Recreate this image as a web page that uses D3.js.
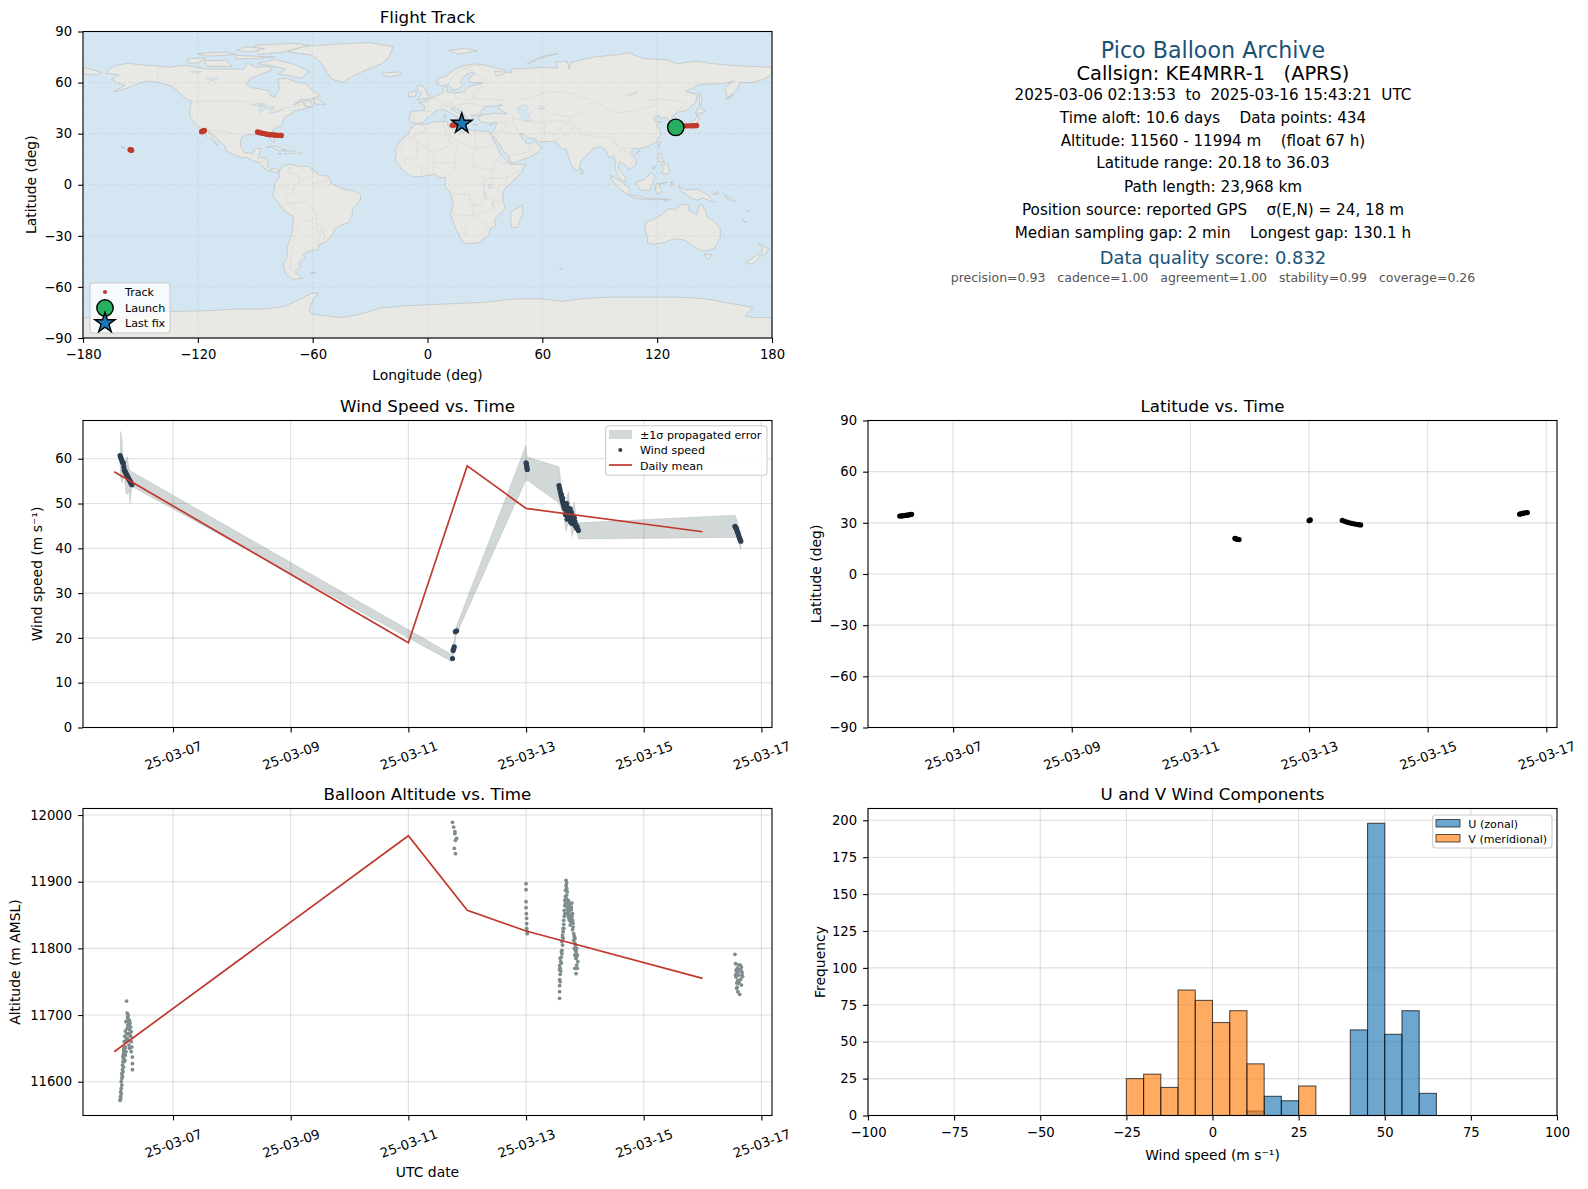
<!DOCTYPE html>
<html>

<head>
    <meta charset="utf-8">
    <style>
        body {
            margin: 0;
            background: white;
        }

        svg {
            display: block;
            font-family: 'DejaVu Sans', sans-serif;
        }
    </style>
</head>

<body>
    <svg width="1588" height="1189"></svg>
</body>

<script src="https://d3js.org/d3.v7.min.js"></script>

<script>
    // ---- land outlines, read by eye, as [lon, lat]
    let landNorthAmerica = [[-168, 65.5], [-166, 68.3], [-162, 70.3], [-156.5, 71.3], [-150, 70.5], [-141, 69.7], [-135, 69], [-128, 70], [-124, 69.8], [-115, 68], [-108, 68], [-102, 68], [-96, 68], [-94, 71.5], [-90, 69], [-85, 69.5], [-81, 69], [-82, 67], [-87, 65], [-93, 62], [-94.5, 59], [-92.5, 57], [-88, 56.5], [-82.5, 55], [-82, 52.5], [-79.5, 51.3], [-79, 54], [-77, 56], [-78, 59], [-78, 62.3], [-73, 62.3], [-70, 61], [-65.5, 59.5], [-64, 60.3], [-61, 56], [-56, 52.5], [-60, 50.2], [-66, 50], [-70, 47], [-65, 49], [-64.5, 46.5], [-61, 45.5], [-66, 44], [-70, 43.5], [-71, 41.5], [-74, 40.5], [-75.5, 37.5], [-76, 35], [-78, 34], [-81, 32], [-80.5, 28], [-80, 25.5], [-81.5, 25.5], [-82.8, 28], [-84, 30], [-89, 30.3], [-90, 29.2], [-94, 29.5], [-97, 28], [-97.7, 25], [-97.7, 22], [-95.5, 18.8], [-91, 18.5], [-90.5, 21], [-87, 21.5], [-88, 17.5], [-88.5, 15.8], [-84, 15.8], [-83.3, 14], [-83.7, 11], [-82, 9], [-79.5, 9.5], [-77.3, 8.7], [-78, 7.3], [-80, 7.5], [-81.5, 8], [-83.5, 8.5], [-85.8, 10], [-87.5, 13], [-91.5, 14], [-94.5, 16.2], [-97, 15.8], [-102, 18], [-105.5, 20], [-105.5, 22.5], [-109, 26], [-112, 29.5], [-114.7, 31.7], [-112, 26.5], [-109.5, 23], [-112, 25], [-115, 28], [-117.2, 32.5], [-120.5, 34.5], [-122.5, 37.7], [-124.3, 40.3], [-124, 46], [-123, 49], [-127, 51], [-130, 54.5], [-134, 58], [-140, 60], [-146, 61], [-151, 59.5], [-154, 58], [-160, 55.5], [-164, 54.7], [-158, 58.5], [-162, 59.5], [-165, 62], [-161, 64.5]]
    let landSouthAmerica = [[-77.5, 8.5], [-75, 11], [-72, 12.2], [-68, 11], [-62, 10.7], [-57, 6], [-52, 5], [-50, 0.5], [-44, -2.5], [-38, -3.5], [-35, -6], [-35, -9], [-39, -14], [-39.5, -18.5], [-41, -22], [-45, -23.8], [-48.5, -26], [-50, -30], [-53.5, -34], [-57, -35], [-57, -38], [-62, -39], [-65, -41], [-64, -43], [-67.5, -46], [-66, -48], [-69, -51], [-68, -53], [-65, -55], [-70, -55.5], [-74, -52.5], [-75.5, -47], [-73, -42], [-73.5, -37], [-71, -30], [-70, -19], [-76, -14], [-81, -6], [-80, -2.5], [-80, 1], [-77.5, 4]]
    let landEurasia = [[-9, 37], [-9.5, 39], [-8.8, 43.2], [-2, 43.5], [-1.2, 46], [-4.5, 48.4], [-1.5, 48.7], [1.5, 50.5], [4, 52], [8, 54], [8.5, 57], [10.5, 57.5], [10, 54.5], [14, 54], [19, 54.5], [21, 57], [24, 58.5], [29, 59.8], [23, 60], [21.5, 61], [22, 63], [25, 65.5], [22, 65.8], [18, 62.5], [17.5, 60], [18.5, 59], [16, 56.2], [13, 55.5], [11, 59], [8, 58], [5, 59], [5, 62], [10, 64], [14, 67.5], [19, 70], [25, 71], [31, 70], [41, 67], [40, 65], [36, 64], [35, 66.5], [44, 66], [44, 68], [54, 68.5], [60, 69], [68, 68.5], [67, 72], [73, 72.5], [74, 68], [75, 72], [81, 73.5], [87, 75], [100, 76.5], [105, 77.5], [113, 74], [125, 73.5], [130, 71], [140, 72.5], [150, 71], [160, 70], [170, 69.5], [180, 69], [180, 65], [177, 62.5], [170, 60], [163, 60], [162, 56], [156.5, 51], [155.5, 57], [160, 61], [155, 59.3], [142, 59], [135, 54.7], [141, 53], [140, 48], [135, 43.5], [130.5, 42.5], [127.5, 39.8], [129.5, 37], [129, 35.2], [126.3, 34.5], [126.5, 37.5], [125, 39.5], [121.5, 39], [121, 40.8], [118, 39], [119, 37.2], [122.5, 37], [119.5, 35], [121.8, 31.5], [121.8, 29], [119.5, 25.5], [116, 22.8], [110.5, 21], [108, 21.5], [106, 19], [109, 15], [109, 11.5], [105, 8.7], [105, 10], [102, 12.5], [100.5, 13.5], [99.5, 10], [103.5, 4], [103.5, 1.5], [100.5, 3.5], [98.5, 8], [98, 14], [97, 16.5], [94.5, 16], [93.5, 19.5], [91, 22.5], [87, 21.5], [82.5, 16.5], [80, 13.5], [79.5, 10], [77.5, 8], [75, 12], [73, 18], [72.5, 21], [70, 21], [68.5, 23.5], [66.5, 25.3], [57.5, 25.5], [56.5, 27], [52, 27.5], [50, 30], [48, 30], [50, 26.5], [51.5, 25.2], [51.5, 24], [54, 24], [56.3, 26], [56.7, 24.3], [59.8, 22.5], [57.7, 19], [55, 17], [52, 15.7], [45, 12.8], [43.3, 13], [42.5, 16.5], [39, 21], [35, 28], [34.3, 28], [32.7, 29.8], [34.5, 31.3], [36, 35.5], [36, 36.8], [32, 36.2], [30, 36.5], [27.5, 37], [26.3, 39.5], [29, 41], [35, 42], [41.5, 41.5], [37, 45], [39, 47], [33.5, 46], [30.5, 46], [28, 43], [28, 41.3], [26, 40.7], [23, 40.5], [24, 38], [22.5, 36.6], [19.5, 40.5], [19, 42], [13.5, 45.5], [12.3, 44.5], [16, 41.8], [18.4, 40], [16.5, 39.5], [16, 38], [15.5, 40], [12, 42], [8.8, 44.3], [4, 43.3], [3, 41.5], [0, 39.5], [-2, 36.8], [-5.5, 36]]
    let landAfrica = [[-5.8, 35.8], [-2, 35], [3, 36.8], [10, 37.3], [11, 34], [15, 32.3], [19, 30.5], [20, 32.7], [25, 31.7], [32, 31.2], [33, 29.8], [34, 27], [37, 21], [38, 18], [43, 12], [51.2, 12], [49, 7], [44, 1.5], [40, -3], [39.2, -8], [40.7, -14], [35, -20], [35.5, -24], [32.7, -26], [32, -29.5], [27, -34], [20, -34.8], [18, -33], [15, -26.5], [12, -17.5], [13.5, -11], [12, -5], [9, -0.8], [9.5, 4], [6, 4.3], [4, 6.3], [-2, 5], [-7.5, 4.5], [-11, 6.7], [-13.5, 9.5], [-17, 14.7], [-16.2, 19], [-17, 21], [-13, 27.5], [-9.8, 30], [-9, 33]]
    let landAustralia = [[114, -22], [113.5, -26], [115, -31], [115, -34.3], [118, -35], [123.5, -34], [129, -31.6], [134, -32.5], [137.7, -35], [139.7, -36.8], [143.5, -38.8], [147, -38.5], [150, -37.3], [153, -31], [153, -25.5], [149, -21], [146, -19], [145.3, -15], [142.7, -11], [141.5, -13], [140.8, -17.5], [136, -15], [136.8, -12.2], [132.5, -11.5], [129.5, -14.8], [126, -14], [122, -18], [118, -20.3]]
    let landAntarctica = [[-180, -90], [-180, -78], [-160, -78], [-150, -76.5], [-135, -74.5], [-115, -74], [-100, -73], [-85, -73], [-75, -71.5], [-68, -68], [-60, -63.5], [-57, -63.5], [-60, -68], [-62, -74], [-60, -76], [-45, -78], [-35, -76], [-25, -72.5], [-10, -71], [10, -70], [30, -69], [45, -67], [60, -67], [70, -68.5], [80, -67], [95, -66], [110, -66], [130, -66], [145, -67], [160, -70], [170, -72], [166, -77], [170, -78], [180, -78], [180, -90]]
    let landGreenland = [[-73, 78], [-66, 81], [-50, 82.5], [-30, 83.5], [-18, 81], [-20, 75], [-24, 71], [-35, 66], [-42, 62], [-44, 60], [-50, 62], [-53, 67], [-55, 71], [-60, 76]]
    let landIslands = [
        [[-180, 65], [-180, 69], [-175, 67.5], [-170, 66], [-173, 64.5]],
        [[-80, 73.5], [-72, 71.5], [-68, 70], [-62, 66.5], [-66, 62.5], [-72, 64], [-78, 65], [-74, 68], [-82, 70], [-89, 71]],
        [[-117, 73], [-105, 73], [-102, 69.5], [-115, 69.5]],
        [[-125, 74], [-116, 74.5], [-120, 71.5], [-125, 71.5]],
        [[-90, 82], [-70, 83], [-62, 82], [-75, 78], [-88, 76.5]],
        [[-100, 76], [-80, 75], [-92, 74], [-100, 74]],
        [[-120, 77], [-105, 78], [-100, 76.5], [-115, 75.5]],
        [[-95, 81], [-85, 80], [-92, 78], [-100, 79]],
        [[-59, 51.5], [-53, 47], [-59, 47.5]],
        [[-64, 49.5], [-61, 49], [-60, 46], [-64, 46]],
        [[-24, 65.5], [-15, 66.3], [-13.5, 65], [-19, 63.3], [-23, 64]],
        [[-5.5, 58.5], [-2, 57.5], [0, 53], [1.5, 52], [1, 51], [-5.5, 50], [-3, 53.5], [-5, 55]],
        [[-10, 54], [-6, 55.2], [-6, 52.2], [-10, 51.5]],
        [[-84.5, 22], [-80, 23], [-74.2, 20.2], [-77.5, 19.9], [-82, 22.4]],
        [[-74.3, 19.8], [-69, 19.8], [-68.4, 18.6], [-74.3, 18.2]],
        [[-78.3, 18.4], [-76.3, 18.2], [-77, 17.8]],
        [[-67.2, 18.5], [-65.7, 18.4], [-66, 18]],
        [[-156, 20.2], [-155, 19.8], [-155.6, 19]],
        [[-160, 22.2], [-158, 21.6], [-159.5, 21.8]],
        [[-61, -51.5], [-58, -51.4], [-59, -52.3]],
        [[11, 79], [20, 80.2], [26, 78.5], [16, 76.8]],
        [[52, 71], [57, 74], [68, 77], [60, 75.5], [56, 72.5]],
        [[12.5, 38], [15.5, 38.2], [15, 36.7]],
        [[8.3, 41], [9.7, 41], [9.5, 39], [8.5, 39]],
        [[24, 35.5], [26, 35.3], [24.5, 34.9]],
        [[32.5, 35.1], [34.3, 35.6], [33, 34.6]],
        [[43.5, -16], [49.5, -12], [50, -16], [47, -25], [44, -25], [43.5, -21]],
        [[80, 9.7], [81.8, 7.5], [80.5, 6]],
        [[120, 25], [122, 25], [120.8, 22]],
        [[110, 20], [111, 19.7], [109, 18.3]],
        [[130, 33.8], [132, 33], [131, 31]],
        [[131, 34.2], [136, 35.7], [140, 38.5], [141, 41.3], [142, 39], [140.8, 35.7], [137, 34.6], [135.5, 33.5], [132.5, 34]],
        [[132.5, 34], [134.5, 34], [133, 32.8]],
        [[140, 42], [141.5, 45.5], [145.5, 43.5], [143, 42]],
        [[142, 54], [143, 53.5], [143.5, 49], [142.5, 46], [142, 50]],
        [[156, 50.5], [160, 53], [158, 51]],
        [[120.5, 18.5], [122.3, 18.3], [122, 16], [124, 13], [120.6, 13.8]],
        [[122, 11.5], [125.5, 12.5], [126.5, 7.5], [125.5, 6], [122, 7], [123.5, 9.5]],
        [[117.2, 10], [119.5, 11.3], [118, 9]],
        [[95.3, 5.6], [98, 4], [103.5, 0], [106, -3], [104.5, -5.8], [101, -3], [97, 2]],
        [[105.2, -6], [110, -6.5], [114.5, -7.7], [114.5, -8.7], [108, -7.8]],
        [[115, -8.2], [119, -8.3], [125, -8.4], [119, -9]],
        [[124, -9], [127, -8.4], [124, -10]],
        [[109, 1.5], [113, 3], [117, 7], [119, 5], [117.7, 1], [116, -3.5], [111, -3], [110, -1]],
        [[119.5, 0.5], [125, 1.5], [121, 0], [122.5, -4.5], [120.5, -5.5], [119, -3]],
        [[127.5, 2], [128.5, 0], [127.5, -1]],
        [[131, -0.8], [135, -3.2], [141, -2.6], [146, -5.5], [150.5, -10.5], [144, -7.8], [141, -9], [138, -8], [133, -4]],
        [[149, -5.5], [152, -4], [152, -5.8]],
        [[155, -6], [159, -8], [161, -10], [157, -8.5]],
        [[166.5, -15], [168, -16], [167, -15]],
        [[164, -20], [167, -22.2], [166, -22]],
        [[144.7, -40.8], [148.3, -40.8], [147.5, -43.3], [146, -43.5]],
        [[172.7, -34.5], [178.5, -37.7], [176, -41.5], [174.8, -40.5], [174.7, -37.5]],
        [[172.5, -40.6], [174.3, -41.7], [171, -45.5], [168.5, -46.7], [166.5, -45.8]],
        [[69, -49], [70.5, -49.2], [69.5, -49.7]]
    ]
    let lakes = [
        [[47, 45.5], [51, 47], [53, 45], [51, 43.5], [53, 41], [54, 37.5], [50, 37.3], [49, 40], [47.5, 43]],
        [[58.5, 46.5], [61.5, 46], [60, 44], [58.5, 44.5]],
        [[-92, 47], [-85, 47.8], [-84.5, 46.5], [-90, 46.5]],
        [[-88, 46], [-84.5, 46], [-80, 45.5], [-82, 43], [-84, 45], [-87, 43], [-87.5, 42]],
        [[-83, 42], [-79, 43], [-76, 44], [-79, 42.5]],
        [[-124, 66.5], [-118, 66.5], [-120, 65]],
        [[-116, 62.5], [-109, 62.8], [-113, 61]],
        [[104, 52], [108, 54], [109.5, 55.5], [109, 54]],
        [[31.5, 0], [34, 0], [33, -2.5], [31.8, -2]],
        [[29.3, -3.5], [30, -4], [31, -8], [30.2, -7.5]],
        [[34, -10], [35, -13], [34.5, -14], [34, -12]]
    ]
    // country borders, only the larger ones, faint in the picture
    let borders = [
        [[-141, 69.7], [-141, 60]], [[-123, 49], [-95, 49], [-89, 48], [-83, 46], [-79, 43], [-75, 45], [-70, 46], [-67, 47.2], [-67, 45]],
        [[-117, 32.5], [-108, 31.5], [-106, 31.7], [-101, 29.5], [-97.5, 26]],
        [[-92, 14.5], [-91, 17.5], [-89, 18]], [[-89, 14], [-88.3, 15.8]], [[-87.5, 13], [-84.7, 15]], [[-85.8, 11], [-83.7, 11]],
        [[-72, 12], [-72.5, 7], [-67.5, 6], [-67, 1.5], [-70, -1], [-70, -4.2], [-74, -7.5], [-73, -11], [-69.5, -11]],
        [[-60, 8.5], [-60, 5], [-64, 4], [-67, 1.5]], [[-57, 6], [-57.5, 2]], [[-52, 5], [-54, 2.3]], [[-60, 1], [-52, 2]],
        [[-80, -2.5], [-75, -1], [-72, -2.5]], [[-70, -19], [-69.5, -11], [-65, -10], [-60, -13.5], [-58, -18], [-58, -22], [-54.5, -25.5], [-53.5, -33.5]],
        [[-70, -19], [-67, -23], [-68, -27], [-70, -33], [-71, -40], [-72, -50], [-68.5, -52.5]], [[-65, -22], [-58, -20], [-58, -27], [-54.5, -27], [-58, -34]],
        [[-2, 35], [-1, 32], [-8.5, 27.7], [-13, 27.5]], [[-8.5, 27.7], [-5, 25], [3, 19], [4, 19], [12, 23.5], [9.5, 30], [8.5, 33], [8.5, 37]],
        [[11, 33], [9.5, 30], [25, 20], [25, 31.7]], [[25, 22], [37, 22]], [[24, 19.5], [24, 10], [34, 9.5], [36, 14], [38, 18]], [[16, 23], [14, 13], [15, 8], [9, 4.5]],
        [[-17, 21], [-13, 21.3], [-12, 26]], [[-5, 25], [-5.5, 15.5], [-12, 15], [-12, 12.5]], [[3, 19], [3.5, 11.5], [3, 6.5]], [[-2.8, 5], [-3, 10], [-5.5, 11]], [[14, 13], [4, 13]],
        [[34, 9.5], [33, 4], [30, 3.5], [28, 5], [24, 9]], [[42, 12], [36, 14]], [[33, 4], [41, 4], [48, 8]], [[41, 4], [41, -1.5]], [[34, 4], [34, -1], [39, -4.5]],
        [[12, -5], [22, -6], [22, -11], [27, -12], [30, -8], [29, -3], [30, 3]], [[30, -8], [40, -10.5]], [[12, -17.5], [24, -18], [24, -11]], [[20, -22], [20, -29], [16.5, -28.5]], [[24, -18], [30, -22.5], [32, -26]], [[33, -14], [30, -15.5], [25, -18]],
        [[35, 30], [39, 32], [47, 29], [48, 30]], [[39, 32], [42, 37], [36, 36.8]], [[45, 39], [44, 37], [46, 34], [48, 30]], [[52, 19], [55, 22], [55.5, 24]], [[43, 17], [52, 19]],
        [[44, 39.5], [48, 38.5], [54, 37.5], [61, 36.5], [61, 31.5], [62, 26]], [[61, 31.5], [66, 29.5], [70, 33], [74, 37]], [[66, 25.5], [70, 28], [74, 31], [77, 35]], [[61, 36.5], [66, 37.5], [74, 37]],
        [[53, 41], [56, 45], [61, 44], [67, 41], [74, 40]], [[47, 50], [55, 51], [61, 54], [70, 55], [77, 53], [87, 49]], [[87, 49], [98, 42], [111, 44], [120, 47], [116, 50], [127, 50], [135, 48], [131, 43]],
        [[87, 49], [80, 42], [74, 39], [77, 35], [81, 30], [88, 28], [97, 28], [98, 24], [102, 21.5], [108, 21.5]], [[98, 24], [101, 20], [97.5, 17], [99, 12]], [[102, 21.5], [105, 17], [107.5, 15], [106, 11]],
        [[-1.8, 43.4], [3, 42.5]], [[-7, 37], [-7, 42], [-8.5, 42]], [[2.5, 51], [8, 49], [7.5, 47.5], [13, 47.5], [13, 48.5], [15, 51], [14, 54]], [[7.5, 44], [7, 46], [13.5, 46.5]], [[15, 51], [19, 49.5], [24, 50.5], [23.5, 54]],
        [[24, 50.5], [40, 50], [38, 47]], [[23.5, 54], [28, 56], [28, 59.5]], [[22, 48], [30, 46]], [[13.5, 46.5], [22, 48]], [[16, 46], [19, 42]], [[22, 41], [26, 41.5], [29, 42]], [[20, 69], [24, 66], [30, 62], [28.5, 60]], [[12, 61], [15, 66], [20, 69], [28, 70]]
    ]

    // ---- track
    let trackLon = [129.7, 131, 132.5, 134, 135.5, 137, 138, 139, 140, 140.6, -155.4, -155.1, -154.8, -154.6, -118, -117.6, -117.2, -116.9, -116.6, -88.8, -88, -87, -86, -85, -84, -83, -82, -81, -80, -79, -78, -77, -76.4, 13, 13.8, 14.5, 15.5, 16.5, 17.9]
    let trackLat = [34.4, 34.5, 34.5, 34.5, 34.6, 34.6, 34.6, 34.7, 34.7, 34.8, 20.6, 20.5, 20.4, 20.3, 31.1, 31.3, 31.5, 31.7, 31.9, 31, 30.7, 30.4, 30.2, 30, 29.7, 29.5, 29.4, 29.3, 29.2, 29.1, 29, 29, 28.9, 34.9, 35.1, 35.3, 35.5, 35.7, 36]
    let launchLonLat = [129.7, 33.7]
    let lastFixLonLat = [17.9, 35.9]

    // ---- wind speed (day of March 2025, m/s)
    let windT = [6.10, 6.11, 6.12, 6.13, 6.14, 6.155, 6.165, 6.17, 6.18, 6.19, 6.20, 6.21, 6.22, 6.23, 6.24, 6.25, 6.26, 6.27, 6.28, 6.29, 6.30, 11.75, 11.76, 11.77, 11.78, 11.80, 11.82, 13.00, 13.005, 13.01, 13.015, 13.02, 13.56, 13.57, 13.58, 13.59, 13.60, 13.61, 13.62, 13.63, 13.64, 13.65, 13.66, 13.67, 13.68, 13.69, 13.70, 13.71, 13.72, 13.73, 13.74, 13.75, 13.76, 13.77, 13.78, 13.79, 13.80, 13.81, 13.82, 13.83, 13.85, 13.87, 13.89, 16.55, 16.56, 16.57, 16.58, 16.59, 16.60, 16.61, 16.62, 16.63, 16.64, 16.65, 13.66, 13.67, 13.68, 13.69, 13.70, 13.71, 13.72, 13.73, 13.74, 13.75, 13.76, 13.77, 13.78, 13.80, 13.82, 13.84, 13.86, 13.60, 13.62]
    let windV = [60.7, 60.3, 60.0, 59.6, 59.2, 59.0, 58.2, 57.5, 57.3, 57.0, 56.7, 56.5, 56.2, 56.0, 55.7, 55.4, 55.2, 55.0, 54.7, 54.5, 54.2, 15.4, 17.2, 17.6, 18.0, 21.4, 21.6, 59.1, 58.8, 58.4, 58.0, 57.6, 54.0, 53.4, 52.8, 52.2, 51.6, 51.0, 50.5, 50.0, 49.5, 49.0, 48.8, 47.6, 49.0, 48.3, 47.3, 48.8, 47.8, 46.9, 48.6, 47.4, 46.4, 47.8, 46.7, 46.2, 47.0, 46.2, 45.8, 45.9, 45.2, 44.8, 44.0, 44.9, 44.7, 44.5, 44.2, 43.7, 43.4, 43.0, 42.6, 42.2, 41.9, 41.6, 50.0, 49.5, 47.5, 50.0, 46.5, 47.0, 49.0, 48.6, 46.8, 48.8, 45.8, 48.0, 45.6, 45.5, 46.8, 45.0, 44.5, 52.0, 51.2]
    let bandT = [6.10, 6.11, 6.135, 6.15, 6.17, 6.20, 6.225, 6.25, 6.27, 6.30, 11.74, 11.76, 11.78, 11.81, 12.995, 13.02, 13.56, 13.60, 13.65, 13.68, 13.72, 13.75, 13.78, 13.82, 13.85, 13.89, 16.55, 16.58, 16.62, 16.65]
    let bandLow = [58, 55.6, 54.6, 56, 56.5, 52.4, 52, 53, 50, 53.8, 14.7, 15.8, 16.8, 20.6, 55.2, 55.2, 50.1, 48.7, 46.5, 43.7, 46, 46, 42.6, 44.5, 44, 42.1, 42.4, 42.4, 41, 39.6]
    let bandHigh = [60.5, 66.1, 64, 60, 58.6, 60, 60.5, 58, 57.3, 57.1, 16.3, 18.8, 19.5, 22.4, 62.9, 60.4, 58.2, 54, 49.8, 50.5, 52.6, 49, 48.5, 50.3, 47, 45.7, 47.4, 46.5, 44.5, 43.7]
    let windMeanT = [6, 11, 12, 13, 16]
    let windMeanV = [57.1, 18.9, 58.4, 48.9, 43.7]

    // ---- latitude
    let latT = [6.10, 6.12, 6.14, 6.16, 6.18, 6.20, 6.22, 6.24, 6.26, 6.28, 6.30, 11.75, 11.76, 11.78, 11.80, 11.82, 13.00, 13.01, 13.02, 13.56, 13.60, 13.64, 13.68, 13.72, 13.76, 13.80, 13.84, 13.87, 16.55, 16.57, 16.60, 16.62, 16.65, 16.68]
    let latV = [34.0, 34.0, 34.1, 34.2, 34.3, 34.4, 34.5, 34.6, 34.7, 34.9, 35.0, 20.9, 20.7, 20.5, 20.3, 20.2, 31.3, 31.5, 31.7, 31.4, 30.9, 30.4, 30.0, 29.7, 29.4, 29.1, 28.9, 28.8, 35.1, 35.3, 35.5, 35.7, 35.9, 36.0]

    // ---- altitude
    let altT = [6.10, 6.11, 6.11, 6.12, 6.12, 6.13, 6.13, 6.14, 6.14, 6.15, 6.15, 6.16, 6.16, 6.17, 6.17, 6.18, 6.18, 6.19, 6.19, 6.20, 6.21, 6.22, 6.22, 6.23, 6.23, 6.24, 6.24, 6.25, 6.25, 6.26, 6.26, 6.27, 6.28, 6.29, 6.23, 6.30, 6.31, 6.31, 6.31, 6.29, 11.75, 11.77, 11.79, 11.80, 11.82, 11.78, 11.80, 11.79, 13.00, 13.00, 13.00, 13.00, 13.005, 13.01, 13.01, 13.01, 13.02, 13.02, 13.57, 13.57, 13.57, 13.58, 13.59, 13.57, 13.58, 13.59, 13.60, 13.61, 13.61, 13.62, 13.62, 13.63, 13.63, 13.64, 13.64, 13.65, 13.65, 13.66, 13.66, 13.67, 13.67, 13.68, 13.68, 13.69, 13.69, 13.70, 13.70, 13.71, 13.72, 13.72, 13.73, 13.74, 13.74, 13.75, 13.75, 13.76, 13.77, 13.77, 13.78, 13.79, 13.79, 13.80, 13.81, 13.81, 13.82, 13.82, 13.83, 13.83, 13.84, 13.85, 13.85, 13.86, 13.87, 13.87, 16.55, 16.56, 16.57, 16.57, 16.58, 16.58, 16.59, 16.59, 16.60, 16.60, 16.61, 16.61, 16.62, 16.63, 16.64, 16.65, 16.66, 16.67, 16.68,
        6.11, 6.12, 6.13, 6.14, 6.15, 6.16, 6.16, 6.17, 6.17, 6.18, 6.18, 6.19, 6.19, 6.20, 6.20, 6.21, 6.22, 6.23, 6.24, 6.25, 6.26, 6.27, 6.28, 6.29,
        13.72, 13.73, 13.74, 13.75, 13.76, 13.77, 13.78, 13.79, 13.80, 13.78, 13.83, 13.84, 13.85, 13.86, 13.87, 13.88, 13.83, 13.85, 13.84,
        13.57, 13.58, 13.57, 13.60, 13.58, 13.60, 13.61, 13.62, 13.63, 13.64, 13.66, 13.67, 13.68, 13.69, 13.70, 13.69,
        16.56, 16.58, 16.60, 16.62, 16.64, 16.66, 16.67, 16.65]
    let altV = [11572, 11578, 11585, 11590, 11600, 11605, 11612, 11618, 11625, 11630, 11638, 11642, 11648, 11652, 11660, 11640, 11668, 11676, 11660, 11690, 11721, 11703, 11680, 11697, 11672, 11690, 11662, 11685, 11655, 11678, 11650, 11670, 11682, 11660, 11695, 11652, 11637, 11627, 11618, 11645, 11989, 11982, 11972, 11962, 11965, 11950, 11942, 11975, 11897, 11888, 11870, 11861, 11852, 11845, 11837, 11830, 11825, 11822, 11725, 11744, 11753, 11761, 11766, 11774, 11770, 11780, 11787, 11797, 11792, 11805, 11817, 11825, 11830, 11836, 11842, 11848, 11857, 11864, 11872, 11878, 11887, 11894, 11902, 11868, 11880, 11862, 11852, 11858, 11872, 11848, 11865, 11856, 11842, 11862, 11835, 11850, 11845, 11862, 11838, 11828, 11852, 11832, 11822, 11812, 11818, 11800, 11790, 11808, 11797, 11785, 11795, 11775, 11770, 11790, 11791, 11777, 11767, 11757, 11748, 11762, 11742, 11770, 11752, 11735, 11775, 11760, 11748, 11731, 11768, 11754, 11772, 11764, 11758,
        11575, 11582, 11595, 11608, 11615, 11622, 11635, 11630, 11645, 11650, 11632, 11640, 11652, 11662, 11645, 11672, 11665, 11685, 11700, 11672, 11692, 11688, 11668, 11675,
        11855, 11845, 11868, 11850, 11840, 11858, 11848, 11842, 11838, 11868, 11815, 11805, 11785, 11800, 11790, 11780, 11770, 11762, 11790,
        11735, 11750, 11768, 11778, 11785, 11795, 11810, 11820, 11815, 11830, 11852, 11868, 11875, 11890, 11885, 11898,
        11760, 11740, 11765, 11750, 11775, 11745, 11760, 11768]
    let altMeanT = [6, 11, 12, 13, 16]
    let altMeanV = [11645, 11969, 11857, 11826, 11755]

    // ---- histogram counts per 5 m/s bin, first number is the left edge
    let uEdges = [10, 15, 20, 40, 45, 50, 55, 60]
    let uCounts = [3, 13, 10, 58, 198, 55, 71, 15]
    let vEdges = [-25, -20, -15, -10, -5, 0, 5, 10, 25]
    let vCounts = [25, 28, 19, 85, 78, 63, 71, 35, 20]

    // ---- text panel
    let infoLines = [
        "2025-03-06 02:13:53  to  2025-03-16 15:43:21  UTC",
        "Time aloft: 10.6 days    Data points: 434",
        "Altitude: 11560 - 11994 m    (float 67 h)",
        "Latitude range: 20.18 to 36.03",
        "Path length: 23,968 km",
        "Position source: reported GPS    σ(E,N) = 24, 18 m",
        "Median sampling gap: 2 min    Longest gap: 130.1 h"
    ]
    let dateTicks = [7, 9, 11, 13, 15, 17]

    let RED = "#c0392b"
    let NAVY = "#1a5276"
    let LABEL = 13.9
    let TICK = 13.2
    let svg = d3.select("svg")

    function toDate(day) {
        return new Date(Date.UTC(2025, 2, 1) + (day - 1) * 864e5)
    }

    // one matplotlib style axes: grid, ticks, then the frame on top at the end
    function makeAxes(box, xScale, yScale, xTicks, yTicks, xFormat, yFormat, id, dashed) {
        let g = svg.append("g")
        svg.append("clipPath").attr("id", id).append("rect")
            .attr("x", box.x0).attr("y", box.y0).attr("width", box.x1 - box.x0).attr("height", box.y1 - box.y0)

        let back = g.append("g")
        let grid = g.append("g")
        let plot = g.append("g").attr("clip-path", "url(#" + id + ")")

        grid.selectAll(".gx").data(xTicks).join("line").attr("class", "gx")
            .attr("x1", d => xScale(d)).attr("x2", d => xScale(d)).attr("y1", box.y0).attr("y2", box.y1)
        grid.selectAll(".gy").data(yTicks).join("line").attr("class", "gy")
            .attr("y1", d => yScale(d)).attr("y2", d => yScale(d)).attr("x1", box.x0).attr("x2", box.x1)
        grid.selectAll("line")
            .style("stroke", dashed ? "#808080" : "#b0b0b0")
            .style("stroke-opacity", dashed ? .22 : .4)
            .style("stroke-width", dashed ? .6 : 1.1)
            .style("stroke-dasharray", dashed ? "3,2" : null)

        let xAxis = g.append("g").attr("transform", "translate(0," + box.y1 + ")")
            .call(d3.axisBottom(xScale).tickValues(xTicks).tickFormat(xFormat).tickSize(4.9).tickPadding(7))
        let yAxis = g.append("g").attr("transform", "translate(" + box.x0 + ",0)")
            .call(d3.axisLeft(yScale).tickValues(yTicks).tickFormat(yFormat).tickSize(4.9).tickPadding(6))
        g.selectAll(".domain").remove()
        g.selectAll(".tick line").style("stroke", "#000").style("stroke-width", 1.1)
        g.selectAll(".tick text").style("font-size", TICK + "px").style("fill", "#000").style("font-family", "'DejaVu Sans'")

        g.append("rect").attr("class", "frame")
            .attr("x", box.x0).attr("y", box.y0).attr("width", box.x1 - box.x0).attr("height", box.y1 - box.y0)
            .style("fill", "none").style("stroke", "#000").style("stroke-width", 1.1)

        return { g: g, back: back, plot: plot, xAxis: xAxis, yAxis: yAxis }
    }

    function title(box, s) {
        svg.append("text").attr("x", (box.x0 + box.x1) / 2).attr("y", box.y0 - 8.8)
            .attr("text-anchor", "middle").style("font-size", "16.7px").text(s)
    }
    function xLabel(box, s, y) {
        svg.append("text").attr("x", (box.x0 + box.x1) / 2).attr("y", y)
            .attr("text-anchor", "middle").style("font-size", LABEL + "px").text(s)
    }
    function yLabel(box, s, x) {
        svg.append("text").attr("transform", "translate(" + x + "," + (box.y0 + box.y1) / 2 + ") rotate(-90)")
            .attr("text-anchor", "middle").style("font-size", LABEL + "px").text(s)
    }
    function rotateDates(ax) {
        ax.xAxis.selectAll(".tick text")
            .attr("text-anchor", "middle").attr("dy", "0.35em").attr("y", 0)
            .attr("transform", "translate(0,28) rotate(-20)")
    }
    function legendBox(x, y, w, h) {
        svg.append("rect").attr("x", x).attr("y", y).attr("width", w).attr("height", h).attr("rx", 3)
            .style("fill", "white").style("fill-opacity", .8).style("stroke", "#ccc").style("stroke-width", 1.1)
    }
    function legendText(x, y, s) {
        svg.append("text").attr("x", x).attr("y", y).attr("dy", "0.35em").style("font-size", "11.1px").text(s)
    }

    let dayFormat = d => d3.utcFormat("%y-%m-%d")(d)
    let xDomain = [toDate(5.47), toDate(17.18)]
    // the latitude panel has no daily mean line, so it starts a little later
    let latDomain = [toDate(5.565), toDate(17.18)]
    let dateValues = dateTicks.map(toDate)
    let numFormat = d3.format("d")

    // ---------- Flight track
    let mapBox = { x0: 83, x1: 772, y0: 31.5, y1: 338 }
    let lonScale = d3.scaleLinear().domain([-180, 180]).range([mapBox.x0, mapBox.x1])
    let latScale = d3.scaleLinear().domain([-90, 90]).range([mapBox.y1, mapBox.y0])
    let mapAx = makeAxes(mapBox, lonScale, latScale, [-180, -120, -60, 0, 60, 120, 180], [-90, -60, -30, 0, 30, 60, 90], d3.format("d"), d3.format("d"), "clip-map", true)

    let lonLatLine = d3.line().x(d => lonScale(d[0])).y(d => latScale(d[1])).curve(d3.curveLinearClosed)
    let openLine = d3.line().x(d => lonScale(d[0])).y(d => latScale(d[1]))

    mapAx.back.append("rect")
        .attr("x", mapBox.x0).attr("y", mapBox.y0).attr("width", mapBox.x1 - mapBox.x0).attr("height", mapBox.y1 - mapBox.y0)
        .style("fill", "#d4e6f1")

    let allLand = [landNorthAmerica, landSouthAmerica, landEurasia, landAfrica, landAustralia, landAntarctica, landGreenland].concat(landIslands)
    mapAx.back.selectAll(".land")
        .data(allLand)
        .join("path")
        .attr("class", "land")
        .attr("d", lonLatLine)
        .style("fill", "#e8e8e4")
        .style("stroke", "#bcc0c1")
        .style("stroke-width", .7)
    mapAx.back.selectAll(".lake")
        .data(lakes)
        .join("path")
        .attr("class", "lake")
        .attr("d", lonLatLine)
        .style("fill", "#d4e6f1")
        .style("stroke", "#c4cacc")
        .style("stroke-width", .5)
    mapAx.back.selectAll(".border")
        .data(borders)
        .join("path")
        .attr("class", "border")
        .attr("d", openLine)
        .style("fill", "none")
        .style("stroke", "#d8d9d6")
        .style("stroke-width", .7)

    mapAx.plot.selectAll(".track")
        .data(trackLon)
        .join("circle")
        .attr("class", "track")
        .attr("cx", d => lonScale(d))
        .attr("cy", (d, i) => latScale(trackLat[i]))
        .attr("r", 2.7)
        .style("fill", RED)

    let starPath = d3.symbol().type(d3.symbolStar).size(128)()
    svg.append("circle")
        .attr("cx", lonScale(launchLonLat[0])).attr("cy", latScale(launchLonLat[1])).attr("r", 8.2)
        .style("fill", "#27ae60").style("stroke", "#000").style("stroke-width", 1.4)
    svg.append("path").attr("d", starPath)
        .attr("transform", "translate(" + lonScale(lastFixLonLat[0]) + "," + latScale(lastFixLonLat[1]) + ")")
        .style("fill", "#1f77b4").style("stroke", "#000").style("stroke-width", 1.4)

    title(mapBox, "Flight Track")
    xLabel(mapBox, "Longitude (deg)", 379.5)
    yLabel(mapBox, "Latitude (deg)", 36)

    legendBox(90, 283, 80, 50)
    svg.append("circle").attr("cx", 105).attr("cy", 292).attr("r", 2.1).style("fill", RED)
    svg.append("circle").attr("cx", 105).attr("cy", 308).attr("r", 8.2)
        .style("fill", "#27ae60").style("stroke", "#000").style("stroke-width", 1.4)
    svg.append("path").attr("d", starPath).attr("transform", "translate(105,323)")
        .style("fill", "#1f77b4").style("stroke", "#000").style("stroke-width", 1.4)
    legendText(125, 292, "Track")
    legendText(125, 308, "Launch")
    legendText(125, 323, "Last fix")

    // ---------- text panel
    let cx = 1213
    svg.append("text").attr("x", cx).attr("y", 50.7).attr("dy", ".35em").attr("text-anchor", "middle")
        .style("font-size", "22.2px").style("fill", NAVY).text("Pico Balloon Archive")
    svg.append("text").attr("x", cx).attr("y", 73).attr("dy", ".35em").attr("text-anchor", "middle")
        .style("font-size", "19.4px").style("white-space", "pre").text("Callsign: KE4MRR-1   (APRS)")
    svg.selectAll(".info")
        .data(infoLines)
        .join("text")
        .attr("class", "info")
        .attr("x", cx)
        .attr("y", (d, i) => [94.2, 117.5, 140.8, 163, 186.4, 209.7, 233][i])
        .attr("dy", ".35em")
        .attr("text-anchor", "middle")
        .style("font-size", "15.2px")
        .style("white-space", "pre")
        .text(d => d)
    svg.append("text").attr("x", cx).attr("y", 257.4).attr("dy", ".35em").attr("text-anchor", "middle")
        .style("font-size", "17.9px").style("fill", NAVY).text("Data quality score: 0.832")
    svg.append("text").attr("x", cx).attr("y", 277.6).attr("dy", ".35em").attr("text-anchor", "middle")
        .style("font-size", "12.5px").style("fill", "#555").style("white-space", "pre")
        .text("precision=0.93   cadence=1.00   agreement=1.00   stability=0.99   coverage=0.26")

    // ---------- wind speed
    let windBox = { x0: 83, x1: 772, y0: 420.5, y1: 727.5 }
    let tScale = d3.scaleUtc().domain(xDomain).range([windBox.x0, windBox.x1])
    let windScale = d3.scaleLinear().domain([0, 68.53]).range([windBox.y1, windBox.y0])
    let windAx = makeAxes(windBox, tScale, windScale, dateValues, [0, 10, 20, 30, 40, 50, 60], dayFormat, numFormat, "clip-wind")
    rotateDates(windAx)

    let band = d3.area()
        .x((d, i) => tScale(toDate(d)))
        .y0((d, i) => windScale(bandLow[i]))
        .y1((d, i) => windScale(bandHigh[i]))
    windAx.plot.append("path").attr("d", band(bandT))
        .style("fill", "#7f8c8d").style("fill-opacity", .35).style("stroke", "#7f8c8d").style("stroke-opacity", .2)

    windAx.plot.selectAll(".wind")
        .data(windT)
        .join("circle")
        .attr("class", "wind")
        .attr("cx", d => tScale(toDate(d)))
        .attr("cy", (d, i) => windScale(windV[i]))
        .attr("r", 2.6)
        .style("fill", "#2c3e50")

    let meanLine = d3.line().x(d => tScale(toDate(d[0]))).y(d => windScale(d[1]))
    windAx.plot.append("path").attr("d", meanLine(windMeanT.map((d, i) => [d, windMeanV[i]])))
        .style("fill", "none").style("stroke", RED).style("stroke-width", 1.7)

    title(windBox, "Wind Speed vs. Time")
    yLabel(windBox, "Wind speed (m s⁻¹)", 42)

    legendBox(605.7, 425.7, 161.3, 49.5)
    svg.append("rect").attr("x", 609).attr("y", 430).attr("width", 23).attr("height", 9).style("fill", "#7f8c8d").style("fill-opacity", .35)
    svg.append("circle").attr("cx", 620.3).attr("cy", 450).attr("r", 2).style("fill", "#2c3e50")
    svg.append("line").attr("x1", 609).attr("x2", 632).attr("y1", 465).attr("y2", 465).style("stroke", RED).style("stroke-width", 1.7)
    legendText(640, 435, "±1σ propagated error")
    legendText(640, 450, "Wind speed")
    legendText(640, 466, "Daily mean")

    // ---------- latitude
    let latBox = { x0: 868, x1: 1557, y0: 420.5, y1: 727.5 }
    let tScale2 = d3.scaleUtc().domain(latDomain).range([latBox.x0, latBox.x1])
    let latScale2 = d3.scaleLinear().domain([-90, 90]).range([latBox.y1, latBox.y0])
    let latAx = makeAxes(latBox, tScale2, latScale2, dateValues, [-90, -60, -30, 0, 30, 60, 90], dayFormat, numFormat, "clip-lat")
    rotateDates(latAx)
    latAx.plot.selectAll(".lat")
        .data(latT)
        .join("circle")
        .attr("class", "lat")
        .attr("cx", d => tScale2(toDate(d)))
        .attr("cy", (d, i) => latScale2(latV[i]))
        .attr("r", 2.6)
        .style("fill", "#000")
    title(latBox, "Latitude vs. Time")
    yLabel(latBox, "Latitude (deg)", 821)

    // ---------- altitude
    let altBox = { x0: 83, x1: 772, y0: 808.5, y1: 1115.5 }
    let tScale3 = d3.scaleUtc().domain(xDomain).range([altBox.x0, altBox.x1])
    let altScale = d3.scaleLinear().domain([11549.3, 12009.8]).range([altBox.y1, altBox.y0])
    let altAx = makeAxes(altBox, tScale3, altScale, dateValues, [11600, 11700, 11800, 11900, 12000], dayFormat, numFormat, "clip-alt")
    rotateDates(altAx)
    altAx.plot.selectAll(".alt")
        .data(altT)
        .join("circle")
        .attr("class", "alt")
        .attr("cx", d => tScale3(toDate(d)))
        .attr("cy", (d, i) => altScale(altV[i]))
        .attr("r", 1.9)
        .style("fill", "#7f8c8d")
    let altLine = d3.line().x(d => tScale3(toDate(d[0]))).y(d => altScale(d[1]))
    altAx.plot.append("path").attr("d", altLine(altMeanT.map((d, i) => [d, altMeanV[i]])))
        .style("fill", "none").style("stroke", RED).style("stroke-width", 1.7)
    title(altBox, "Balloon Altitude vs. Time")
    xLabel(altBox, "UTC date", 1177)
    yLabel(altBox, "Altitude (m AMSL)", 20)

    // ---------- histogram
    let histBox = { x0: 868, x1: 1557, y0: 808.5, y1: 1115.5 }
    let hx = d3.scaleLinear().domain([-100, 100]).range([histBox.x0, histBox.x1])
    let hy = d3.scaleLinear().domain([0, 208]).range([histBox.y1, histBox.y0])
    let histAx = makeAxes(histBox, hx, hy, [-100, -75, -50, -25, 0, 25, 50, 75, 100], [0, 25, 50, 75, 100, 125, 150, 175, 200], d3.format("d"), numFormat, "clip-hist")

    function drawBars(edges, counts, color, cls) {
        histAx.plot.selectAll("." + cls)
            .data(edges)
            .join("rect")
            .attr("class", cls)
            .attr("x", d => hx(d))
            .attr("width", d => hx(d + 5) - hx(d))
            .attr("y", (d, i) => hy(counts[i]))
            .attr("height", (d, i) => hy(0) - hy(counts[i]))
            .style("fill", color)
            .style("fill-opacity", .65)
            .style("stroke", "#000")
            .style("stroke-opacity", .65)
            .style("stroke-width", 1.1)
    }
    drawBars(uEdges, uCounts, "#1f77b4", "ubar")
    drawBars(vEdges, vCounts, "#ff7f0e", "vbar")

    title(histBox, "U and V Wind Components")
    xLabel(histBox, "Wind speed (m s⁻¹)", 1160)
    yLabel(histBox, "Frequency", 825)

    legendBox(1432.7, 815, 119.3, 33)
    svg.append("rect").attr("x", 1436).attr("y", 819.5).attr("width", 24).attr("height", 7.5)
        .style("fill", "#1f77b4").style("fill-opacity", .65).style("stroke", "#000").style("stroke-opacity", .65)
    svg.append("rect").attr("x", 1436).attr("y", 834.5).attr("width", 24).attr("height", 7.5)
        .style("fill", "#ff7f0e").style("fill-opacity", .65).style("stroke", "#000").style("stroke-opacity", .65)
    legendText(1468.3, 824, "U (zonal)")
    legendText(1468.3, 839, "V (meridional)")
</script>

</html>
